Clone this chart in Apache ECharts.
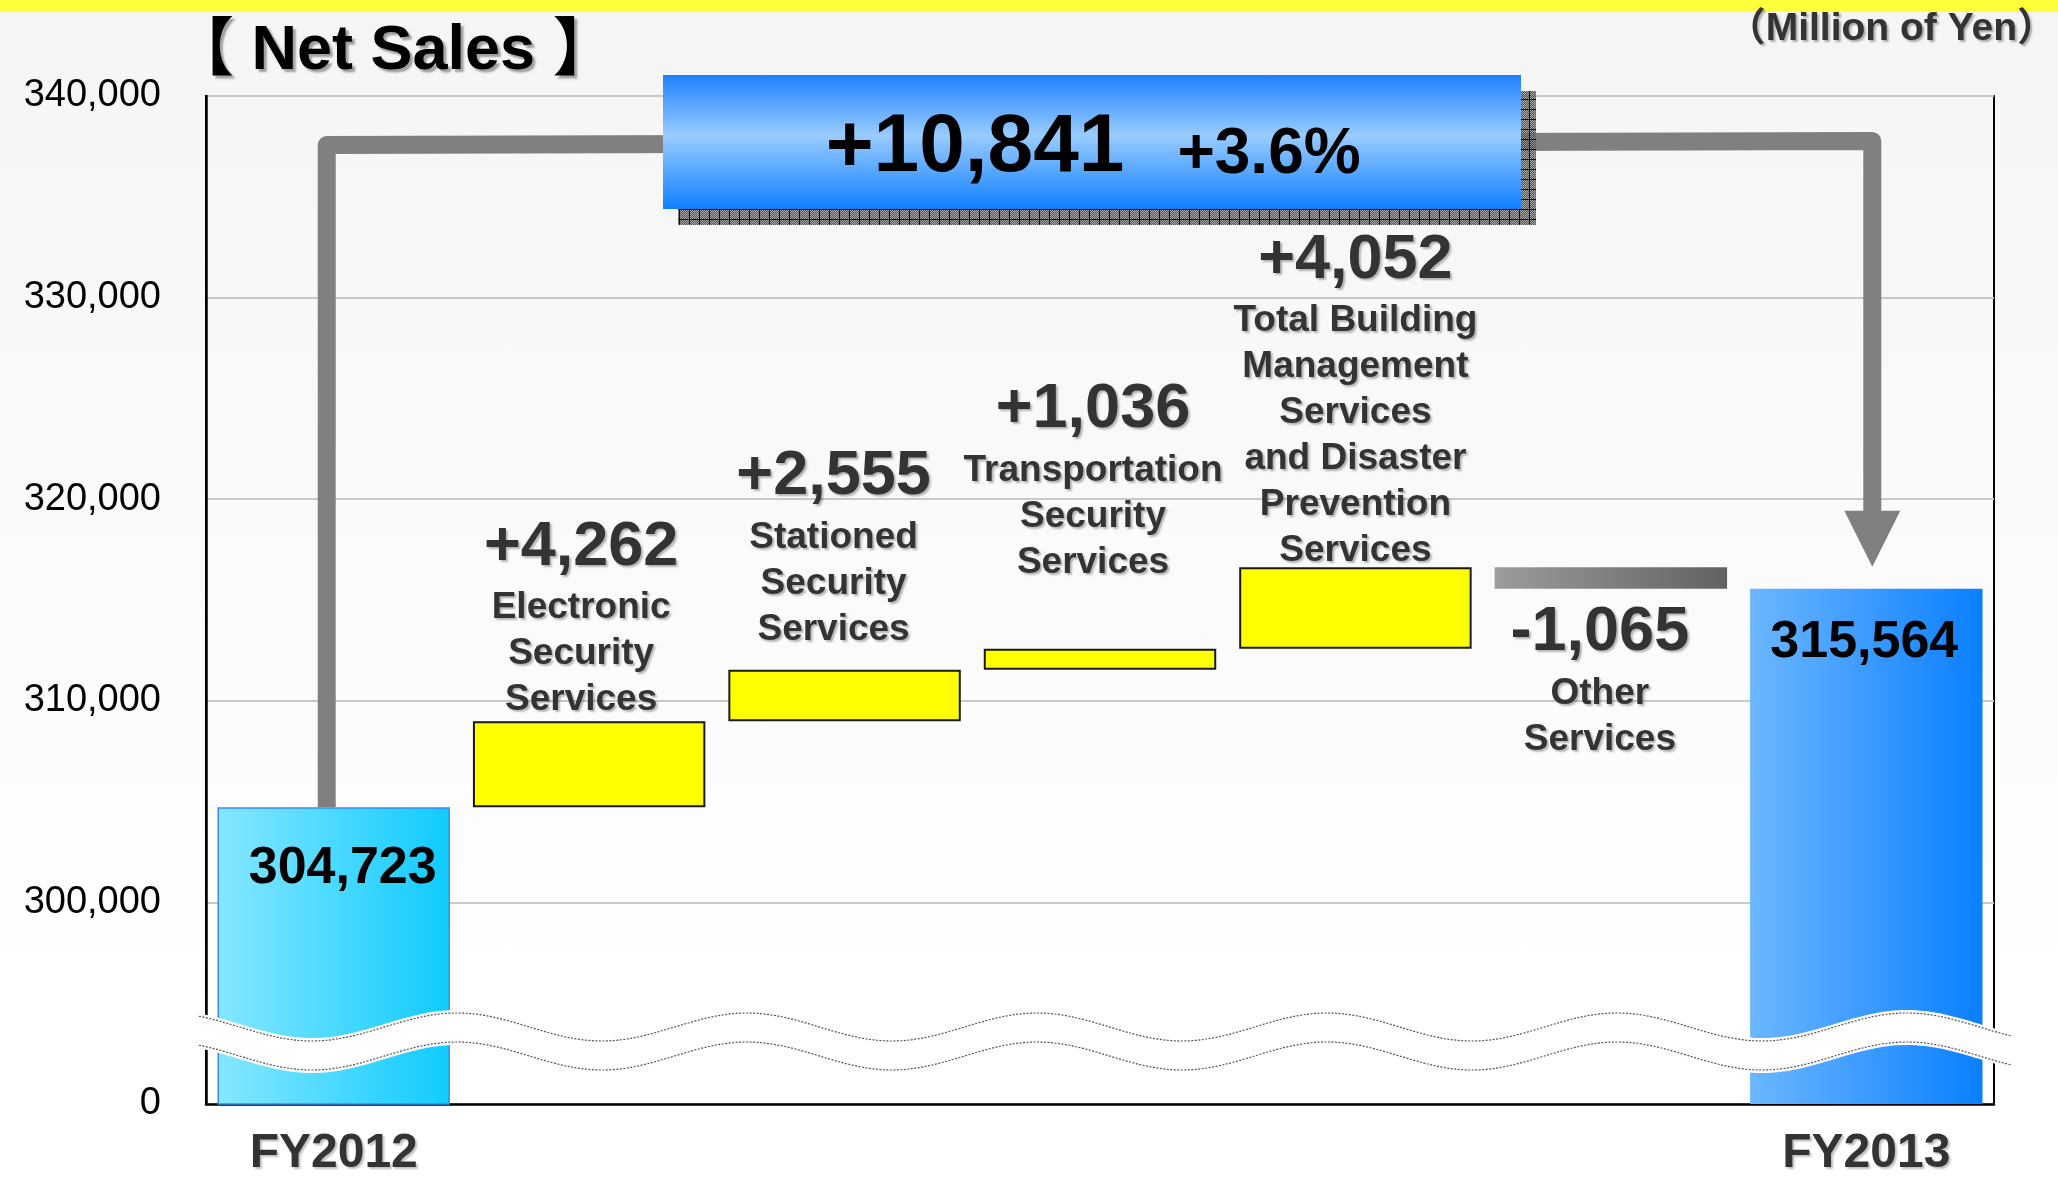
<!DOCTYPE html>
<html><head><meta charset="utf-8">
<script src="https://cdn.jsdelivr.net/npm/echarts@6/dist/echarts.min.js"></script>
<style>
html,body{margin:0;padding:0;}
#c{width:2058px;height:1178px;background:linear-gradient(to bottom,#f5f5f5 0%,#fafafa 45%,#ffffff 85%,#ffffff 100%);}
</style></head><body><div id="c"></div>
<script>
// ---------------- data ----------------
const categories = ['FY2012', 'Electronic Security Services', 'Stationed Security Services',
  'Transportation Security Services', 'Total Building Management Services and Disaster Prevention Services',
  'Other Services', 'FY2013'];
const fy2012Sales = 304723;
const fy2013Sales = 315564;
const segmentChanges = [4262, 2555, 1036, 4052, -1065];
const segmentLabelLines = [
  ['Electronic', 'Security', 'Services'],
  ['Stationed', 'Security', 'Services'],
  ['Transportation', 'Security', 'Services'],
  ['Total Building', 'Management', 'Services', 'and Disaster', 'Prevention', 'Services'],
  ['Other', 'Services']
];
const yAxisMin = 290000;   // shown as "0" (broken axis)
const yAxisMax = 340000;
const yAxisStep = 10000;
const titleText = '【 Net Sales 】';
const unitText = '（Million of Yen）';

// ---------------- helpers ----------------
const FONT = "'Liberation Sans', Arial, 'Noto Sans CJK JP', sans-serif";
const fmt = v => v.toLocaleString('en-US');
const signed = v => (v >= 0 ? '+' : '-') + fmt(Math.abs(v));

// waterfall layout (base + visible height)
const baseVals = [0];
const heightVals = [fy2012Sales];
let running = fy2012Sales;
segmentChanges.forEach(c => {
  if (c >= 0) { baseVals.push(running); heightVals.push(c); running += c; }
  else { running += c; baseVals.push(running); heightVals.push(-c); }
});
baseVals.push(0); heightVals.push(fy2013Sales);

// styles
const grad = (a, b) => new echarts.graphic.LinearGradient(0, 0, 1, 0, [{offset: 0, color: a}, {offset: 1, color: b}]);
const shadowTxt = {textShadowColor: 'rgba(0,0,0,0.28)', textShadowOffsetX: 2, textShadowOffsetY: 2, textShadowBlur: 2};
const labelPlacement = [
  {position: 'insideTop', distance: 35, offset: [9, 0]},
  {position: 'top', distance: -2, offset: [-8, 0]},
  {position: 'top', distance: 17, offset: [-11, 0]},
  {position: 'top', distance: 63, offset: [-7, 0]},
  {position: 'top', distance: -7, offset: [0, 0]},
  {position: 'bottom', distance: 6, offset: [-11, 0]},
  {position: 'insideTop', distance: 28, offset: [-2, 0]}
];

const visibleData = heightVals.map((h, i) => {
  let itemStyle, text;
  if (i === 0) {
    itemStyle = {color: grad('#86e7ff', '#10cbff'), borderColor: '#3d8bf2', borderWidth: 1.5};
    text = '{f|' + fmt(fy2012Sales) + '}';
  } else if (i === heightVals.length - 1) {
    itemStyle = {color: grad('#6cb7ff', '#0a7fff')};
    text = '{f|' + fmt(fy2013Sales) + '}';
  } else {
    const c = segmentChanges[i - 1];
    itemStyle = c >= 0 ? {color: '#ffff00', borderColor: '#1a1a1a', borderWidth: 2}
                       : {color: grad('#9c9c9c', '#626262')};
    text = '{v|' + signed(c) + '}\n' + segmentLabelLines[i - 1].map(s => '{t|' + s + '}').join('\n');
  }
  return {
    value: h,
    itemStyle,
    label: Object.assign({show: true, formatter: text}, labelPlacement[i])
  };
});

const gridLeft = 206, gridRight = 64, gridTop = 96, gridBottom = 69;
const W = 2058, H = 1178;

const chart = echarts.init(document.getElementById('c'), null, {renderer: 'canvas', width: W, height: H});

const option = {
  backgroundColor: 'transparent',
  animation: false,
  grid: {left: gridLeft, right: gridRight, top: gridTop, bottom: gridBottom, show: true,
         borderColor: '#000', borderWidth: 2, backgroundColor: 'transparent'},
  xAxis: {
    type: 'category', data: categories,
    axisLine: {lineStyle: {color: '#000', width: 2.5}},
    axisTick: {show: false},
    axisLabel: {
      interval: 0, margin: 26, fontSize: 48, fontWeight: 'bold', color: '#333', fontFamily: FONT,
      lineHeight: 48,
      textShadowColor: 'rgba(0,0,0,0.25)', textShadowOffsetX: 2, textShadowOffsetY: 2, textShadowBlur: 2,
      formatter: v => (v.indexOf('FY') === 0 ? v : '')
    }
  },
  yAxis: {
    type: 'value', min: yAxisMin, max: yAxisMax, interval: yAxisStep,
    axisLine: {show: true, lineStyle: {color: '#000', width: 2.5}},
    axisTick: {show: false},
    splitLine: {lineStyle: {color: '#c8c8c8', width: 2}},
    axisLabel: {
      margin: 45, fontSize: 38, color: '#000', fontFamily: FONT,
      formatter: v => (v === yAxisMin ? '0' : fmt(v))
    }
  },
  series: [
    {type: 'bar', stack: 'w', data: baseVals, barWidth: '91%', silent: true,
     itemStyle: {color: 'rgba(0,0,0,0)'}, clip: true},
    {type: 'bar', stack: 'w', data: visibleData, barWidth: '91%', clip: true,
     label: {
       show: true, fontFamily: FONT, align: 'center',
       rich: {
         v: Object.assign({fontSize: 63, fontWeight: 'bold', color: '#333', lineHeight: 76, fontFamily: FONT}, shadowTxt),
         t: Object.assign({fontSize: 37, fontWeight: 'bold', color: '#333', lineHeight: 46, fontFamily: FONT}, shadowTxt),
         f: {fontSize: 52, fontWeight: 'bold', color: '#000', lineHeight: 52, fontFamily: FONT}
       }
     }}
  ]
};
chart.setOption(option);

// ---------------- annotations ----------------
const p0 = chart.convertToPixel({gridIndex: 0}, [categories[0], fy2012Sales]);
const p6 = chart.convertToPixel({gridIndex: 0}, [categories[6], fy2013Sales]);
const x1 = p0[0] - 7, x2 = p6[0] + 6;
const tipY = p6[1] - 22, baseY = tipY - 56;

// hatched shadow pattern
const pc = document.createElement('canvas'); pc.width = 10; pc.height = 10;
const g = pc.getContext('2d');
for (let i = 0; i < 10; i++) for (let j = 0; j < 10; j++) {
  g.fillStyle = ((i + j) % 2) ? 'rgba(60,60,60,0.85)' : 'rgba(150,150,150,0.85)';
  g.fillRect(i, j, 1, 1);
}
g.fillStyle = 'rgba(10,10,10,0.95)'; g.fillRect(9, 0, 1, 10); g.fillRect(0, 9, 10, 1);

// break waves
const bottomY = H - gridBottom;
const waveX0 = gridLeft - 7, waveX1 = W - gridRight + 17;
const waveY = (x, off) => bottomY - 82 + off + 14 * Math.cos(2 * Math.PI * (x - 312) / 290);
const upper = [], lower = [], upperPad = [], lowerPad = [];
for (let x = waveX0; x <= waveX1; x += 3) {
  upper.push([x, waveY(x, 0)]); lower.push([x, waveY(x, 29)]);
  upperPad.push([x, waveY(x, 0) - 3]); lowerPad.push([x, waveY(x, 29) + 3]);
}
const band = upperPad.concat(lowerPad.slice().reverse());

const diff = fy2013Sales - fy2012Sales;
const pct = (diff / fy2012Sales * 100).toFixed(1);

const boxX = 663, boxY = 75, boxW = 858, boxH = 134;

chart.setOption({
  graphic: [
    {type: 'rect', shape: {x: 0, y: 0, width: W, height: 12}, style: {fill: '#ffff3c'}, z: 1},
    {type: 'text', x: 171, y: 52, z: 50,
     style: {text: titleText, font: 'bold 63px ' + FONT, fill: '#000', align: 'left', verticalAlign: 'middle',
             textAlign: 'left', textVerticalAlign: 'middle',
             textShadowColor: 'rgba(0,0,0,0.35)', textShadowOffsetX: 3, textShadowOffsetY: 3, textShadowBlur: 2}},
    {type: 'text', x: 2056, y: 29, z: 50,
     style: {text: unitText, font: 'bold 39px ' + FONT, fill: '#333', align: 'right', verticalAlign: 'middle',
             textAlign: 'right', textVerticalAlign: 'middle',
             textShadowColor: 'rgba(0,0,0,0.3)', textShadowOffsetX: 2, textShadowOffsetY: 2, textShadowBlur: 2}},
    // connector
    {type: 'polyline', z: 30,
     shape: {points: [[x1, p0[1]], [x1, gridTop + 49], [x2, gridTop + 45], [x2, baseY + 2]]},
     style: {stroke: '#808080', lineWidth: 18, fill: null, lineJoin: 'round'}},
    {type: 'polygon', z: 30,
     shape: {points: [[x2 - 28, baseY], [x2 + 28, baseY], [x2, tipY]]},
     style: {fill: '#808080'}},
    // box shadow + box
    {type: 'rect', z: 31, shape: {x: boxX + 15, y: boxY + 16, width: boxW, height: boxH},
     style: {fill: {image: pc, repeat: 'repeat'}}},
    {type: 'rect', z: 32, shape: {x: boxX, y: boxY, width: boxW, height: boxH},
     style: {fill: new echarts.graphic.LinearGradient(0, 0, 0, 1, [
       {offset: 0, color: '#1e80ff'}, {offset: 0.45, color: '#99ccff'}, {offset: 1, color: '#1080ff'}])}},
    {type: 'text', x: 975, y: 148, z: 33,
     style: {text: signed(diff), font: 'bold 82px ' + FONT, fill: '#000', align: 'center', verticalAlign: 'middle',
             textAlign: 'center', textVerticalAlign: 'middle',
             textShadowColor: '#ffffff', textShadowOffsetX: 3, textShadowOffsetY: 3, textShadowBlur: 0}},
    {type: 'text', x: 1269, y: 155, z: 33,
     style: {text: '+' + pct + '%', font: 'bold 64px ' + FONT, fill: '#000', align: 'center', verticalAlign: 'middle',
             textAlign: 'center', textVerticalAlign: 'middle',
             textShadowColor: '#ffffff', textShadowOffsetX: 3, textShadowOffsetY: 3, textShadowBlur: 0}},
    // axis break band
    {type: 'polygon', z: 40, shape: {points: band}, style: {fill: '#ffffff'}},
    {type: 'polyline', z: 41, shape: {points: upper}, style: {stroke: '#555', lineWidth: 1.2, lineDash: [2, 1.5], fill: null}},
    {type: 'polyline', z: 41, shape: {points: lower}, style: {stroke: '#555', lineWidth: 1.2, lineDash: [2, 1.5], fill: null}}
  ]
});
</script></body></html>
